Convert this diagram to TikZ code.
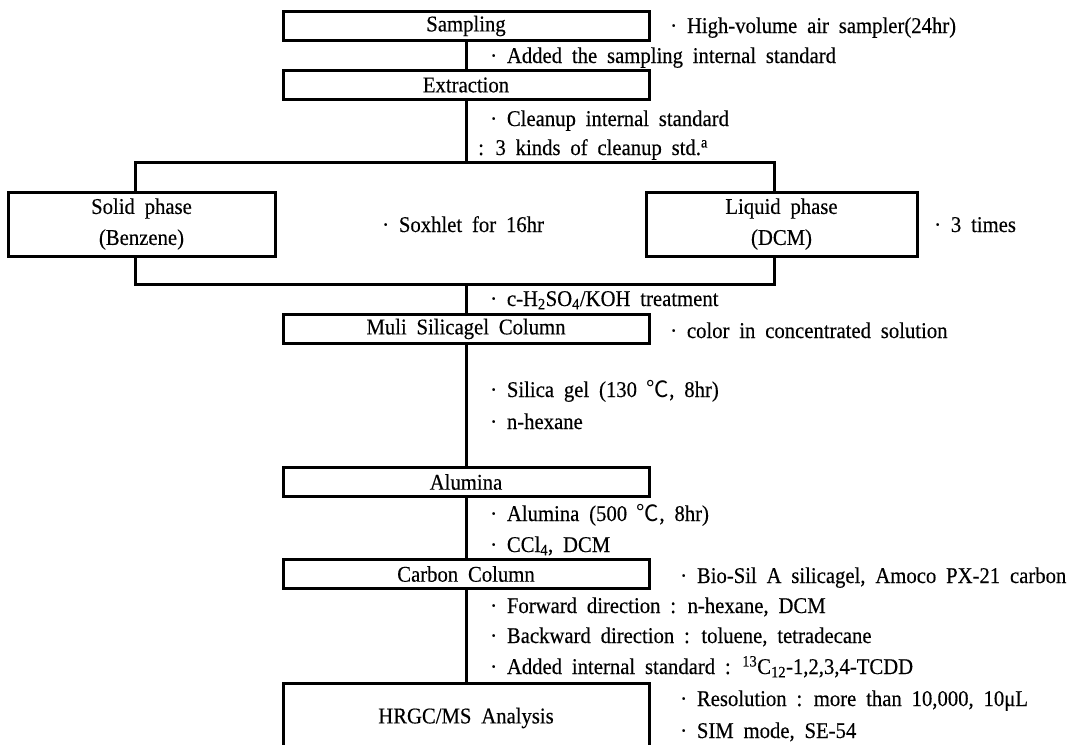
\documentclass[tikz,border=0pt]{standalone}
\usepackage{fontspec}
\setmainfont[WordSpace=1.9,FakeStretch=0.92,FakeBold=0.35]{Liberation Serif}
\newfontfamily\cjkfont{Noto Sans CJK KR}
\newcommand{\degc}{{\cjkfont ℃}}
\begin{document}
\begin{tikzpicture}[x=1pt,y=-1pt,
  box/.style={draw, line width=3pt, inner sep=0pt, minimum width=366pt, minimum height=29pt,
    font=\fontsize{22.5}{26}\selectfont, align=center},
  twobox/.style={box, minimum height=64pt, font=\fontsize{22.5}{31}\selectfont},
  lab/.style={anchor=base west, inner sep=0pt, font=\fontsize{22.5}{26}\selectfont},
  link/.style={line width=3pt}]
\useasboundingbox (0,0) rectangle (1073,744);
\clip (0,0) rectangle (1073,744);
% boxes
\node[box] (samp) at (466,26) {Sampling};
\node[box] (extr) at (466,85) {Extraction};
\node[twobox, minimum width=267pt] (solid) at (141.5,224) {Solid phase\\(Benzene)};
\node[twobox, minimum width=271pt] (liquid) at (781.5,224) {Liquid phase\\(DCM)};
\node[box] (muli) at (466,329) {Muli Silicagel Column};
\node[box] (alum) at (466,482) {Alumina};
\node[box] (carb) at (466,574) {Carbon Column};
\node[box, minimum height=70pt] (hrgc) at (466,718) {HRGC/MS Analysis};
% branch coordinates
\coordinate (bt) at (466,162);
\coordinate (bl) at (135,162);
\coordinate (br) at (774,162);
\coordinate (cm) at (466,284);
\coordinate (cl) at (135,284);
\coordinate (cr) at (774,284);
% connectors
\draw[link] (samp.south) -- (extr.north);
\draw[link] (extr.south) -- (bt);
\draw[link] (solid.north -| bl) |- (br) -- (liquid.north -| br);
\draw[link] (solid.south -| cl) |- (cr) -- (liquid.south -| cr);
\draw[link] (cm) -- (muli.north);
\draw[link] (muli.south) -- (alum.north);
\draw[link] (alum.south) -- (carb.north);
\draw[link] (carb.south) -- (hrgc.north);
% labels
\node[lab] (l1) at (670,33) {· High-volume air sampler(24hr)};
\node[lab] (l2) at (490,63) {· Added the sampling internal standard};
\node[lab] (l3) at (490,126) {· Cleanup internal standard};
\node[lab] (l4) at (478,155) {: 3 kinds of cleanup std.\textsuperscript{a}};
\node[lab] (l5) at (382,232) {· Soxhlet for 16hr};
\node[lab] (l6) at (934,232) {· 3 times};
\node[lab] (l7) at (490,306) {· c-H\textsubscript{2}SO\textsubscript{4}/KOH treatment};
\node[lab] (l8) at (670,338) {· color in concentrated solution};
\node[lab] (l9) at (490,397) {· Silica gel (130 \degc, 8hr)};
\node[lab] (l10) at (490,429) {· n-hexane};
\node[lab] (l11) at (490,521) {· Alumina (500 \degc, 8hr)};
\node[lab] (l12) at (490,552) {· CCl\textsubscript{4}, DCM};
\node[lab] (l13) at (680,583) {· Bio-Sil A silicagel, Amoco PX-21 carbon};
\node[lab] (l14) at (490,613) {· Forward direction : n-hexane, DCM};
\node[lab] (l15) at (490,643) {· Backward direction : toluene, tetradecane};
\node[lab] (l16) at (490,674) {· Added internal standard : \textsuperscript{13}C\textsubscript{12}-1,2,3,4-TCDD};
\node[lab] (l17) at (680,706) {· Resolution : more than 10,000, 10μL};
\node[lab] (l18) at (680,738) {· SIM mode, SE-54};
\end{tikzpicture}
\end{document}
